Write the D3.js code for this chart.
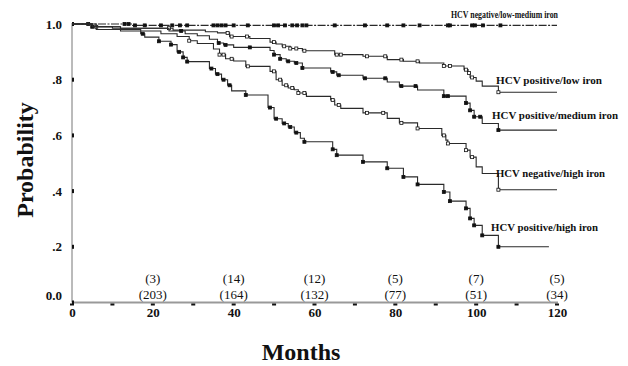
<!DOCTYPE html>
<meta charset="utf-8">
<head>
<style>
body { margin: 0; background: #fff; }
text { font-family: "Liberation Serif", "Times New Roman", serif; fill: #111; }
.curve { fill: none; stroke: #2a2a2a; stroke-width: 1.1; }
.lbl { font-weight: bold; font-size: 11px; }
.risk { font-size: 13px; }
</style>
</head>
<body>
<svg width="628" height="366"></svg>
<script src="https://d3js.org/d3.v7.min.js"></script>
<script>

// Kaplan-Meier step curves, months / probability
var negLowMedT = [0, 15, 120];
var negLowMedS = [1, 0.995, 0.995];
var negLowMedC = [4, 13, 14, 15.6, 18, 22, 24.8, 26.7, 28.5, 35, 36, 37, 38, 40, 43.5, 50, 51, 52.7, 54.5, 55.7, 57, 58, 65, 72.5, 78, 82, 86, 93, 93.5, 99, 99.7, 101.7, 106];

var posLowT = [0, 5, 10, 25, 33, 36, 39, 44, 49, 50.5, 52, 54, 57, 65, 72, 78, 82, 86, 92, 97, 98, 98.5, 100, 101.5, 105.5, 120];
var posLowS = [1, 0.99, 0.985, 0.978, 0.972, 0.968, 0.955, 0.948, 0.935, 0.928, 0.92, 0.912, 0.904, 0.89, 0.884, 0.872, 0.866, 0.86, 0.849, 0.836, 0.824, 0.808, 0.795, 0.777, 0.755, 0.755];
var posLowC = [6, 24, 38.5, 39.5, 43.3, 50, 52.5, 54, 55.5, 57.5, 65.5, 66.5, 73, 77.5, 81.5, 85.5, 92, 93.5, 97.5, 98.2, 99, 105.5];

var posMedT = [0, 5, 12, 24, 28, 31, 34, 36, 37.5, 40, 49, 50, 51.5, 53, 55, 57, 64, 65.5, 72, 78, 81, 85.5, 92, 97.5, 98.5, 99.5, 101.5, 105.5, 120];
var posMedS = [1, 0.99, 0.985, 0.975, 0.965, 0.958, 0.945, 0.932, 0.925, 0.916, 0.905, 0.89, 0.875, 0.866, 0.86, 0.842, 0.828, 0.816, 0.805, 0.792, 0.777, 0.763, 0.741, 0.716, 0.69, 0.667, 0.643, 0.619, 0.619];
var posMedC = [5, 27, 36.3, 38, 44, 50, 51.5, 53.5, 55.5, 57, 64.5, 66, 72.5, 77.5, 81.5, 85, 92, 93, 97.5, 98.5, 99.5, 101, 105.5];

var negHighT = [0, 5, 12, 22, 26, 29, 31, 35, 36.5, 38, 40, 43, 49, 50.5, 52, 53.5, 55, 56, 58, 64, 65, 66.5, 72, 78, 81, 85.5, 91.5, 92.5, 93, 97.5, 98.5, 100, 101.5, 105.5, 120];
var negHighS = [1, 0.99, 0.975, 0.965, 0.955, 0.94, 0.93, 0.91, 0.89, 0.875, 0.867, 0.848, 0.83, 0.80, 0.78, 0.77, 0.764, 0.752, 0.74, 0.727, 0.709, 0.697, 0.681, 0.661, 0.645, 0.625, 0.60, 0.583, 0.571, 0.547, 0.522, 0.487, 0.463, 0.405, 0.405];
var negHighC = [29, 36.5, 37.5, 39.5, 43.5, 50, 51.5, 53, 54.5, 56, 57.5, 64.5, 66, 73, 77, 81.5, 85.5, 92, 93, 97.5, 99, 105.5];

var posHighT = [0, 6, 17, 18, 21.5, 24.5, 26, 27.5, 28.5, 34, 35.5, 37, 38.5, 39.5, 43, 48.5, 50, 52, 53.5, 55, 56.5, 57.5, 64.5, 65.5, 72, 78, 82, 85.5, 92, 93.5, 97.5, 98.5, 99.5, 101.5, 105.5, 118];
var posHighS = [1, 0.98, 0.965, 0.953, 0.938, 0.926, 0.90, 0.88, 0.865, 0.84, 0.82, 0.80, 0.78, 0.76, 0.745, 0.70, 0.66, 0.643, 0.63, 0.61, 0.59, 0.577, 0.55, 0.529, 0.505, 0.482, 0.451, 0.424, 0.397, 0.364, 0.338, 0.302, 0.277, 0.241, 0.20, 0.20];
var posHighC = [17.5, 21.5, 24.5, 26.5, 27.5, 28.5, 34.5, 36, 37.5, 39, 43, 49, 50.5, 52.5, 54, 55.5, 57.5, 64.5, 65.5, 72, 78, 82, 85.5, 92, 93.5, 97.5, 98.5, 99.5, 101.5, 105.5];

var groupNames = ["HCV negative/low-medium iron", "HCV positive/low iron", "HCV positive/medium iron", "HCV negative/high iron", "HCV positive/high iron"];

var xTicks = [0, 20, 40, 60, 80, 100, 120];
var xMinor = [0, 10, 20, 30, 40, 50, 60, 70, 80, 90, 100, 110, 120];
var yTicks = [0, 0.2, 0.4, 0.6, 0.8, 1.0];
var yLabels = ["0.0", ".2", ".4", ".6", ".8", "1.0"];

var riskMonths = [20, 40, 60, 80, 100, 120];
var riskEvents = [3, 14, 12, 5, 7, 5];
var riskAtRisk = [203, 164, 132, 77, 51, 34];

var svg = d3.select("svg");

var x = d3.scaleLinear().domain([0, 120]).range([72, 557]);
var y = d3.scaleLinear().domain([0, 1]).range([302.5, 24]);

var curves = [
  {t: negLowMedT, s: negLowMedS, c: negLowMedC, open: false, dash: "8,1.5,2,1.5", lx: 451, ly: 18, len: 107},
  {t: posLowT, s: posLowS, c: posLowC, open: true, dash: null, lx: 496, ly: 84, len: 106},
  {t: posMedT, s: posMedS, c: posMedC, open: false, dash: null, lx: 492, ly: 119, len: 126},
  {t: negHighT, s: negHighS, c: negHighC, open: true, dash: null, lx: 496, ly: 177, len: 109},
  {t: posHighT, s: posHighS, c: posHighC, open: false, dash: null, lx: 491, ly: 231, len: 107}
];

// axes lines
svg.append("line")
  .attr("x1", x(0)).attr("x2", x(0))
  .attr("y1", y(1) - 1).attr("y2", y(0))
  .attr("stroke", "#777").attr("stroke-width", 1);

svg.append("line")
  .attr("x1", x(0)).attr("x2", x(120) + 1)
  .attr("y1", y(0)).attr("y2", y(0))
  .attr("stroke", "#999").attr("stroke-width", 2);

svg.selectAll(".xminor").data(xMinor).enter().append("rect")
  .attr("x", function(d) { return x(d) - 2; })
  .attr("y", y(0) + 1)
  .attr("width", 4).attr("height", 2)
  .attr("fill", "#111");

svg.selectAll(".yminor").data(yTicks).enter().append("rect")
  .attr("x", x(0))
  .attr("y", function(d) { return y(d) - 2; })
  .attr("width", 2).attr("height", 4)
  .attr("fill", "#111");

var xAxis = svg.append("g")
  .attr("transform", "translate(0," + y(0) + ")")
  .call(d3.axisBottom(x).tickValues(xTicks).tickSize(0).tickPadding(5));
xAxis.select(".domain").remove();
xAxis.selectAll("text")
  .style("font-family", "Liberation Serif, serif")
  .style("font-weight", "bold").style("font-size", "13px").attr("fill", "#111");

var yAxis = svg.append("g")
  .attr("transform", "translate(" + x(0) + ",0)")
  .call(d3.axisLeft(y).tickValues(yTicks).tickSize(0).tickPadding(10)
    .tickFormat(function(d, i) { return yLabels[i]; }));
yAxis.select(".domain").remove();
yAxis.selectAll("text")
  .style("font-family", "Liberation Serif, serif")
  .style("font-weight", "bold").style("font-size", "13px").attr("fill", "#111")
  .attr("dy", function(d) { return d === 0 ? "-0.2em" : "0.32em"; });

// curves
var line = d3.line()
  .x(function(d) { return x(d[0]); })
  .y(function(d) { return y(d[1]); })
  .curve(d3.curveStepAfter);

function valueAt(c, t) {
  var v = c.s[0];
  for (var i = 0; i < c.t.length; i++) {
    if (c.t[i] <= t) v = c.s[i];
  }
  return v;
}

curves.forEach(function(c, k) {
  var pts = c.t.map(function(t, i) { return [t, c.s[i]]; });
  svg.append("path")
    .attr("class", "curve")
    .attr("d", line(pts))
    .attr("stroke-dasharray", c.dash);

  svg.selectAll(".cens" + k).data(c.c).enter().append("rect")
    .attr("x", function(d) { return x(d) - 1.5; })
    .attr("y", function(d) { return y(valueAt(c, d)) - 1.5; })
    .attr("width", 3).attr("height", 3)
    .attr("fill", c.open ? "#fff" : "#111")
    .attr("stroke", "#111").attr("stroke-width", 0.8);

  svg.append("text")
    .attr("class", "lbl")
    .attr("x", c.lx).attr("y", c.ly)
    .attr("textLength", c.len)
    .attr("lengthAdjust", "spacingAndGlyphs")
    .text(groupNames[k]);
});

// numbers at risk
svg.selectAll(".ev").data(riskEvents).enter().append("text")
  .attr("class", "risk")
  .attr("x", function(d, i) { return x(riskMonths[i]); })
  .attr("y", 283)
  .attr("text-anchor", "middle")
  .text(function(d) { return "(" + d + ")"; });

svg.selectAll(".ar").data(riskAtRisk).enter().append("text")
  .attr("class", "risk")
  .attr("x", function(d, i) { return x(riskMonths[i]); })
  .attr("y", 299)
  .attr("text-anchor", "middle")
  .text(function(d) { return "(" + d + ")"; });

// axis titles
svg.append("text")
  .attr("x", 301).attr("y", 360)
  .attr("text-anchor", "middle")
  .style("font-weight", "bold").style("font-size", "24px")
  .text("Months");

svg.append("text")
  .attr("transform", "translate(33,160) rotate(-90)")
  .attr("text-anchor", "middle")
  .style("font-weight", "bold").style("font-size", "24px")
  .text("Probability");

</script>
</body>
